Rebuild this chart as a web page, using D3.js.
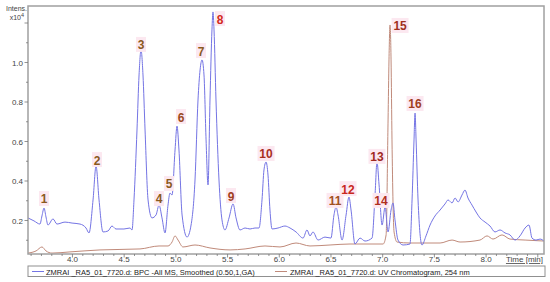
<!DOCTYPE html>
<html><head><meta charset="utf-8">
<script src="https://cdn.jsdelivr.net/npm/d3@7"></script>
<style>body{margin:0;background:#fff}svg{display:block}</style>
</head><body>
<script>
// ---- data ----
const bpcTime = [3.570,3.628,3.686,3.705,3.725,3.744,3.763,3.812,3.850,3.928,3.996,4.073,4.131,4.160,4.199,4.228,4.257,4.295,4.344,4.382,4.421,4.498,4.556,4.576,4.595,4.624,4.644,4.663,4.682,4.702,4.731,4.769,4.808,4.837,4.866,4.895,4.924,4.943,4.963,4.992,5.011,5.030,5.060,5.108,5.147,5.185,5.214,5.234,5.253,5.272,5.292,5.311,5.330,5.349,5.359,5.369,5.388,5.417,5.446,5.475,5.514,5.553,5.582,5.620,5.669,5.717,5.765,5.804,5.833,5.852,5.872,5.891,5.910,5.930,5.988,6.055,6.104,6.162,6.230,6.268,6.297,6.326,6.375,6.442,6.500,6.529,6.549,6.568,6.607,6.646,6.674,6.694,6.732,6.781,6.829,6.897,6.926,6.945,6.965,6.994,7.023,7.052,7.081,7.100,7.119,7.148,7.197,7.264,7.284,7.303,7.313,7.323,7.342,7.380,7.419,7.458,7.506,7.555,7.603,7.632,7.671,7.700,7.729,7.767,7.796,7.825,7.864,7.903,7.941,7.990,8.038,8.086,8.135,8.183,8.231,8.280,8.328,8.377,8.415,8.444,8.483,8.522,8.560];
const bpcIntensity = [0.213,0.198,0.182,0.223,0.263,0.218,0.177,0.208,0.182,0.192,0.187,0.182,0.162,0.137,0.304,0.476,0.304,0.142,0.147,0.172,0.157,0.157,0.162,0.152,0.304,0.658,0.937,1.063,0.937,0.658,0.304,0.213,0.228,0.278,0.213,0.137,0.278,0.339,0.329,0.557,0.678,0.557,0.228,0.116,0.177,0.405,0.810,0.962,1.013,0.937,0.608,0.380,0.810,1.165,1.256,1.165,0.810,0.405,0.203,0.152,0.213,0.284,0.213,0.152,0.162,0.157,0.162,0.162,0.304,0.456,0.496,0.430,0.253,0.157,0.162,0.172,0.162,0.142,0.111,0.152,0.122,0.142,0.101,0.116,0.111,0.228,0.268,0.228,0.101,0.228,0.319,0.253,0.081,0.111,0.096,0.111,0.329,0.496,0.380,0.177,0.268,0.142,0.253,0.289,0.203,0.101,0.076,0.081,0.304,0.608,0.744,0.608,0.304,0.076,0.122,0.177,0.223,0.253,0.284,0.304,0.289,0.314,0.294,0.329,0.354,0.314,0.278,0.243,0.213,0.192,0.172,0.142,0.152,0.137,0.127,0.101,0.122,0.162,0.177,0.111,0.101,0.106,0.096];
const uvTime = [3.570,3.648,3.705,3.744,3.802,3.976,4.266,4.653,4.837,4.924,4.963,4.992,5.021,5.069,5.185,5.330,5.524,5.669,5.862,6.007,6.162,6.297,6.491,6.684,7.004,7.033,7.052,7.061,7.071,7.081,7.090,7.110,7.139,7.264,7.555,7.671,7.748,7.941,8.009,8.067,8.154,8.231,8.377,8.560];
const uvIntensity = [0.035,0.046,0.066,0.046,0.035,0.041,0.051,0.056,0.071,0.071,0.091,0.122,0.101,0.066,0.076,0.061,0.051,0.056,0.071,0.066,0.086,0.071,0.076,0.081,0.081,0.127,0.709,1.013,1.190,1.013,0.608,0.142,0.091,0.086,0.086,0.101,0.091,0.101,0.122,0.106,0.127,0.106,0.101,0.096];
const peakLabels = ["1","2","3","4","5","6","7","8","9","10","11","12","13","14","15","16"];
const peakLabelTime = [3.725,4.237,4.663,4.837,4.934,5.050,5.243,5.427,5.533,5.872,6.539,6.665,6.945,6.984,7.168,7.313];
const peakLabelValue = [0.309,0.506,1.089,0.309,0.385,0.724,1.058,1.220,0.324,0.537,0.299,0.359,0.522,0.299,1.185,0.790];
const xTickLabels = ["4.0","4.5","5.0","5.5","6.0","6.5","7.0","7.5","8.0"];
const yTickLabels = ["0.2","0.4","0.6","0.8","1.0"];
const legendLabels = ["ZMRAI _RA5_01_7720.d: BPC -All MS, Smoothed (0.50,1,GA)","ZMRAI _RA5_01_7720.d: UV Chromatogram, 254 nm"];

// ---- layout ----
const W=550,H=282;
const L=28,R=544,T=6,B=254;
const svg=d3.select("body").append("svg").attr("width",W).attr("height",H);
const x=d3.scaleLinear().domain([3.57,8.56]).range([L,R]);
const y=d3.scaleLinear().domain([0,1]).range([260,62.5]);
const yMin=y.invert(B), yMax=y.invert(T);

const labelColor = ["#8a5a1e","#8a5a1e","#8a5a1e","#8a5a1e","#8a5a1e","#9a4a1e","#8a5a1e","#d42a20","#a0401e","#a8301e","#a0501e","#c8281e","#a0281e","#b0301e","#a0301e","#a0401e"];

svg.append("defs").append("clipPath").attr("id","clip").append("rect").attr("x",L).attr("y",T).attr("width",R-L).attr("height",B-T);

const line=d3.line().x(d=>x(d[0])).y(d=>y(d[1])).curve(d3.curveMonotoneX);
const uv=uvTime.map((t,i)=>[t,uvIntensity[i]]);
const bpc=bpcTime.map((t,i)=>[t,bpcIntensity[i]]);
const g=svg.append("g").attr("clip-path","url(#clip)");
g.append("path").attr("d",line(uv)).attr("fill","none").attr("stroke","#c08a7a").attr("stroke-width",1);
g.append("path").attr("d",line(bpc)).attr("fill","none").attr("stroke","#7474e4").attr("stroke-width",1);

// labels
const lab=svg.append("g");
peakLabels.forEach((s,i)=>{
  const cx=x(peakLabelTime[i]), cy=y(peakLabelValue[i]);
  const w=s.length*7+3;
  lab.append("rect").attr("x",cx-w/2).attr("y",cy-8).attr("width",w).attr("height",15).attr("fill","#fce8f0");
  lab.append("text").attr("x",cx).attr("y",cy+4.5).attr("text-anchor","middle")
    .attr("font-family","Liberation Sans, Arial, sans-serif").attr("font-weight","bold").attr("font-size",12)
    .attr("fill",labelColor[i]).text(s);
});

// frame
svg.append("rect").attr("x",L).attr("y",T).attr("width",R-L).attr("height",B-T).attr("fill","none").attr("stroke","#a0a0a0").attr("stroke-width",1.5);

// x axis ticks
const xax=svg.append("g").attr("font-family","Liberation Sans, Arial, sans-serif").attr("font-size",8).attr("fill","#444");
d3.range(36,86).map(v=>v/10).forEach(v=>{
  const major=Math.abs(v*2-Math.round(v*2))<1e-6;
  xax.append("line").attr("x1",x(v)).attr("x2",x(v)).attr("y1",B).attr("y2",B+(major?3.5:2)).attr("stroke","#777").attr("stroke-width",0.8);
});
xTickLabels.forEach(s=>{
  xax.append("text").attr("x",x(+s)).attr("y",B+8).attr("text-anchor","middle").text(s);
});
xax.append("text").attr("x",R-1).attr("y",B+8).attr("text-anchor","end").attr("text-decoration","underline").text("Time [min]");

// y axis ticks
const yax=svg.append("g").attr("font-family","Liberation Sans, Arial, sans-serif").attr("font-size",8).attr("fill","#444");
d3.range(1,13).map(v=>v/10).forEach(v=>{
  if(v<yMin||v>yMax) return;
  const major=Math.abs(v*5-Math.round(v*5))<1e-6;
  yax.append("line").attr("x1",L).attr("x2",L-(major?3.5:2)).attr("y1",y(v)).attr("y2",y(v)).attr("stroke","#777").attr("stroke-width",0.8);
});
yTickLabels.forEach(s=>{
  yax.append("text").attr("x",L-5).attr("y",y(+s)+3).attr("text-anchor","end").text(s);
});
yax.append("text").attr("x",L-1).attr("y",11).attr("text-anchor","end").attr("font-size",7).text("Intens.");
const xt=yax.append("text").attr("x",L-4).attr("y",19.5).attr("text-anchor","end").attr("font-size",7);
xt.append("tspan").text("x10");
xt.append("tspan").attr("dy",-3).attr("font-size",5.5).text("4");

// legend
const lg=svg.append("g").attr("font-family","Liberation Sans, Arial, sans-serif").attr("font-size",7.5).attr("fill","#222");
lg.append("rect").attr("x",L).attr("y",266).attr("width",R+1-L).attr("height",10.5).attr("fill","#fff").attr("stroke","#909090").attr("stroke-width",1);
lg.append("line").attr("x1",32).attr("x2",44).attr("y1",271.5).attr("y2",271.5).attr("stroke","#7474e4");
lg.append("text").attr("x",46).attr("y",274.5).text(legendLabels[0]);
lg.append("line").attr("x1",275).attr("x2",287).attr("y1",271.5).attr("y2",271.5).attr("stroke","#c08a7a");
lg.append("text").attr("x",290).attr("y",274.5).text(legendLabels[1]);
</script>
</body></html>
